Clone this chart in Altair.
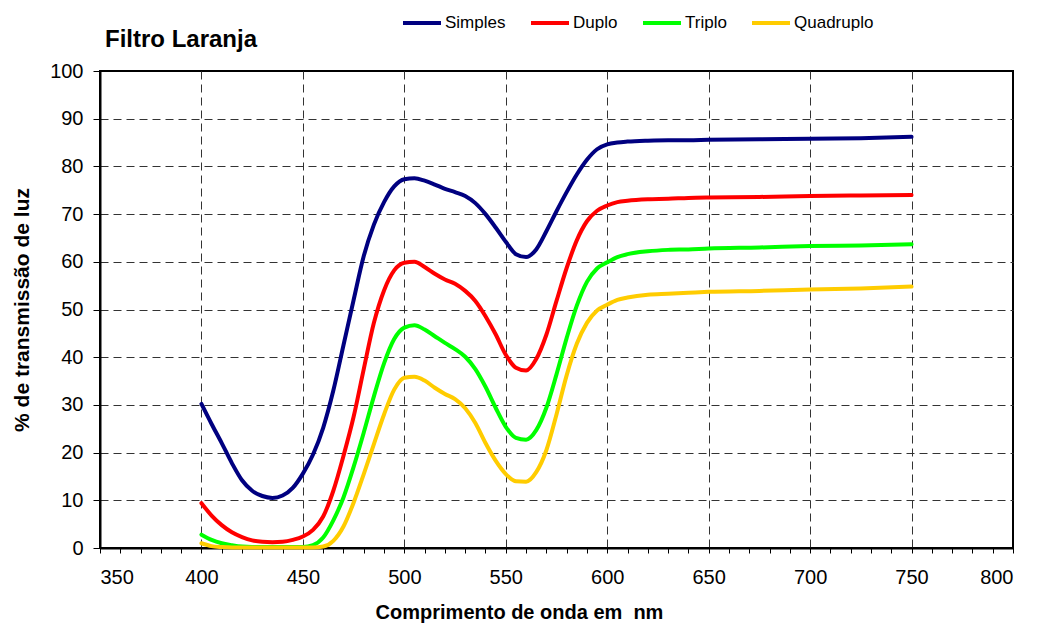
import altair as alt
import pandas as pd

wavelength = [400, 405, 410, 415, 420, 425, 430, 435, 440, 445, 450, 455, 460, 465, 470,
              475, 480, 485, 490, 495, 500, 505, 510, 515, 520, 525, 530, 535, 540, 545,
              550, 555, 560, 565, 570, 575, 580, 585, 590, 595, 600, 605, 610, 620, 630,
              640, 650, 675, 700, 725, 750]

simples = [30.2, 26.0, 22.0, 17.8, 14.2, 12.0, 10.9, 10.5, 11.0, 12.6, 15.6, 19.6, 25.2, 33.0, 42.5,
           52.0, 61.2, 67.8, 72.5, 75.8, 77.3, 77.5, 77.0, 76.2, 75.3, 74.6, 73.8, 72.3, 70.0, 67.2,
           64.2, 61.6, 61.0, 62.6, 66.4, 70.6, 74.6, 78.3, 81.4, 83.6, 84.6, 85.0, 85.2, 85.4, 85.5,
           85.5, 85.6, 85.7, 85.8, 85.9, 86.2]

duplo = [9.4, 6.8, 4.8, 3.3, 2.3, 1.6, 1.3, 1.2, 1.3, 1.7, 2.4, 3.8, 6.6, 12.0, 19.3,
         27.5, 37.5, 47.2, 54.0, 58.2, 59.8, 60.0, 58.9, 57.5, 56.3, 55.4, 53.9, 51.8, 48.6, 44.8,
         40.5, 37.8, 37.2, 39.6, 44.7, 51.8, 58.7, 64.5, 68.5, 70.7, 71.8, 72.5, 72.8, 73.1, 73.2,
         73.4, 73.5, 73.6, 73.8, 73.9, 74.0]

triplo = [2.8, 1.7, 1.0, 0.6, 0.3, 0.2, 0.2, 0.2, 0.2, 0.2, 0.2, 0.6, 2.2, 5.8, 10.6,
          17.0, 24.2, 31.8, 38.7, 43.8, 46.2, 46.7, 45.8, 44.4, 43.0, 41.7, 40.1, 37.5, 33.8, 29.4,
          25.4, 23.1, 22.7, 24.7, 29.4, 36.4, 44.0, 50.8, 55.8, 58.6, 59.9, 61.0, 61.6, 62.2, 62.5,
          62.6, 62.8, 63.0, 63.3, 63.4, 63.7]

quadruplo = [1.0, 0.4, 0.2, 0.1, 0.1, 0.1, 0.1, 0.1, 0.1, 0.1, 0.1, 0.1, 0.3, 1.5, 4.5,
             9.5, 15.5, 21.8, 28.0, 33.2, 35.7, 35.9, 35.1, 33.6, 32.3, 31.2, 29.3, 26.2, 22.0, 18.3,
             15.5, 14.0, 13.9, 15.9, 20.5, 28.0, 36.2, 42.8, 47.2, 49.8, 51.0, 52.0, 52.5, 53.1, 53.3,
             53.5, 53.7, 53.9, 54.2, 54.4, 54.8]

series_names = ["Simples", "Duplo", "Triplo", "Quadruplo"]
series_colors = ["#000080", "#FF0000", "#00FF00", "#FFCC00"]
x_ticks = list(range(350, 801, 10))
y_ticks = list(range(0, 101, 10))

rows = []
for name, vals in zip(series_names, [simples, duplo, triplo, quadruplo]):
    for w, v in zip(wavelength, vals):
        rows.append({"nm": w, "valor": v, "serie": name})
df = pd.DataFrame(rows)

FONT = "Liberation Sans"

chart = alt.Chart(df).mark_line(strokeWidth=4, interpolate="monotone", strokeCap="round").encode(
    x=alt.X("nm:Q",
            scale=alt.Scale(domain=[350, 800], nice=False, zero=False),
            axis=alt.Axis(values=x_ticks,
                          labelExpr="datum.value % 50 === 0 ? datum.label : ''",
                          gridOpacity={"condition": {"test": "datum.value % 50 === 0 && datum.value > 350 && datum.value < 800", "value": 1}, "value": 0},
                          title="Comprimento de onda em\u00a0 nm",
                          titleX=419, titleAnchor="middle", titleFontSize=20,
                          tickSize=5, tickColor="black", tickWidth=1,
                          labelPadding=14, titlePadding=15)),
    y=alt.Y("valor:Q",
            scale=alt.Scale(domain=[0, 100], nice=False),
            axis=alt.Axis(values=y_ticks, title="% de transmissão de luz",
                          gridOpacity={"condition": {"test": "datum.value > 0 && datum.value < 100", "value": 1}, "value": 0},
                          tickSize=7, tickColor="black", tickWidth=1,
                          labelPadding=10, titlePadding=17)),
    color=alt.Color("serie:N",
                    scale=alt.Scale(domain=series_names, range=series_colors),
                    sort=series_names,
                    legend=alt.Legend(orient="none", direction="horizontal",
                                      legendX=301, legendY=-69, title=None,
                                      symbolType="stroke", symbolSize=1444,
                                      symbolStrokeWidth=4, labelFontSize=17,
                                      labelFont=FONT, labelColor="black",
                                      labelOffset=2, columnPadding=17))
).properties(
    width=913, height=477,
    title=alt.TitleParams("Filtro Laranja", anchor="start", frame="group",
                          fontSize=24, font=FONT, fontWeight="bold", color="black",
                          dx=5, offset=-15, dy=54, baseline="alphabetic"),
    autosize=alt.AutoSizeParams(type="none"),
    padding={"left": 100, "top": 71, "right": 24, "bottom": 78},
).configure(
    background="white"
).configure_view(
    stroke="black", strokeWidth=2
).configure_axis(
    labelFont=FONT, labelFontSize=20, labelColor="black",
    titleFont=FONT, titleFontSize=21, titleFontWeight="bold", titleColor="black",
    domainColor="black", domainWidth=2,
    gridColor="#333333", gridDash=[8, 5], gridWidth=1
)

chart.save("out.html", embed_options={"renderer": "svg", "actions": False})
